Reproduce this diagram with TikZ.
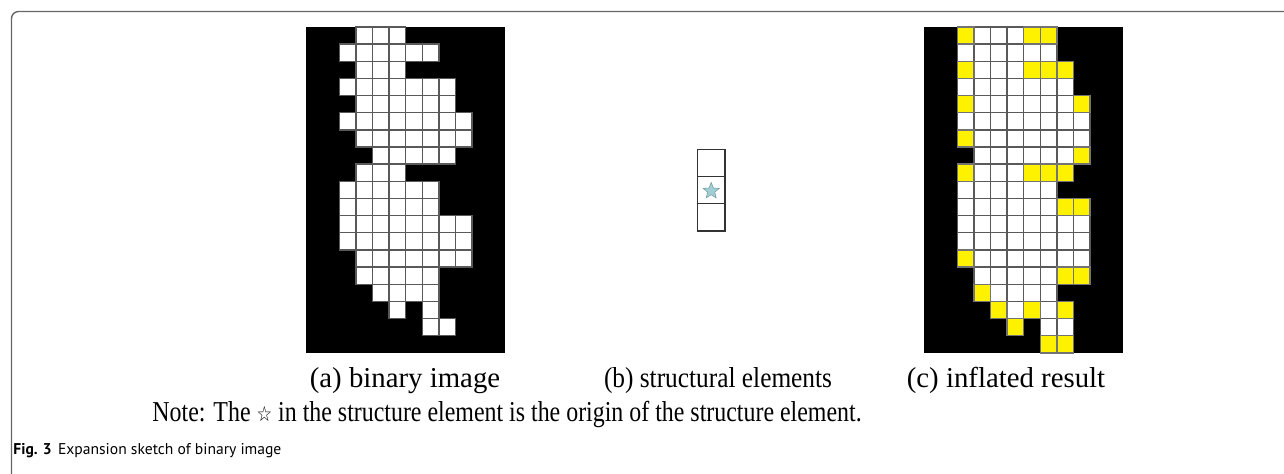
\documentclass[tikz,border=0pt]{standalone}
\usepackage{fontspec}
\setmainfont{Liberation Serif}
\newfontfamily\capfont{PT Sans}
\newfontfamily\symfont{DejaVu Sans}
\usetikzlibrary{shapes.geometric}
\definecolor{starblue}{RGB}{160,208,214}
\newcommand{\hsqueeze}[2]{\scalebox{#1}[1]{#2}}

\begin{document}
\begin{tikzpicture}[x=0.5pt,y=-0.5pt,
  whitecell/.style={fill=white,draw=black!65,line width=0.7pt},
  yellowcell/.style={fill=yellow,draw=black!55,line width=0.7pt},
  secell/.style={draw=black!80,line width=0.8pt},
  subcap/.style={font=\fontsize{14.4}{17}\selectfont,anchor=base}]
  \useasboundingbox (0,0) rectangle (1284,474);
  % frame
  \draw[black!60,line width=0.7pt,rounded corners=3.5pt] (11.5,474) |- (1284,11.5);
  % (a) binary image
  \fill[black] (306,27) rectangle ++(199.2,325.9);
  \begin{scope}[shift={(306,27)}]
    \foreach \r/\cs in {0/{3,4,5},1/{2,...,7},2/{3,4,5},3/{2,...,8},4/{3,...,8},
      5/{2,...,9},6/{3,...,9},7/{4,...,8},8/{3,4,5},9/{2,...,7},10/{2,...,7},
      11/{2,...,9},12/{2,...,9},13/{3,...,9},14/{3,...,7},15/{4,...,7},16/{5,7},17/{7,8}}
      \foreach \c in \cs
        \draw[whitecell] (16.6*\c,17.15*\r) rectangle ++(16.6,17.15);
  \end{scope}
  % (b) structural element
  \foreach \k in {0,1,2}
    \draw[secell] (697.5,149.5+27.1*\k) rectangle ++(27.5,27.1);
  \node[star,star points=5,star point ratio=2.3,fill=starblue,draw=starblue!75!black,
    line width=0.3pt,minimum size=8.5pt,inner sep=0pt] (origin) at (711.2,191) {};
  % (c) inflated result
  \fill[black] (924,27) rectangle ++(199.2,325.9);
  \begin{scope}[shift={(924,27)}]
    \foreach \r/\cs in {0/{3,4,5},1/{2,...,7},2/{3,4,5},3/{2,...,8},4/{3,...,8},
      5/{2,...,9},6/{3,...,9},7/{3,...,8},8/{3,4,5},9/{2,...,7},10/{2,...,7},
      11/{2,...,9},12/{2,...,9},13/{3,...,9},14/{3,...,7},15/{4,...,7},16/{5,7},17/{7,8}}
      \foreach \c in \cs
        \draw[whitecell] (16.6*\c,17.15*\r) rectangle ++(16.6,17.15);
    \foreach \r/\cs in {0/{2,6,7},2/{2,6,7,8},4/{2,9},6/{2},7/{9},8/{2,6,7,8},
      10/{8,9},13/{2},14/{8,9},15/{3},16/{4,6,8},17/{5},18/{7,8}}
      \foreach \c in \cs
        \draw[yellowcell] (16.6*\c,17.15*\r) rectangle ++(16.6,17.15);
  \end{scope}
  % captions
  \node[subcap] (capa) at (405,388) {(a) binary image};
  \node[subcap] (capb) at (718,388) {\hsqueeze{0.88}{(b) structural elements}};
  \node[subcap] (capc) at (1006,388) {(c) inflated result};
  \node[subcap,anchor=base west,inner sep=0pt] (note) at (152,422)
    {\hsqueeze{0.83}{Note: The {\symfont\fontsize{10.5}{12}\selectfont ☆} in the structure element is the origin of the structure element.}};
  \node[anchor=base west,inner sep=0pt,font=\capfont\fontsize{7.8}{9}\selectfont] (figcap) at (13,455)
    {\textbf{Fig. 3}\hspace{0.4em}Expansion sketch of binary image};
\end{tikzpicture}
\end{document}
